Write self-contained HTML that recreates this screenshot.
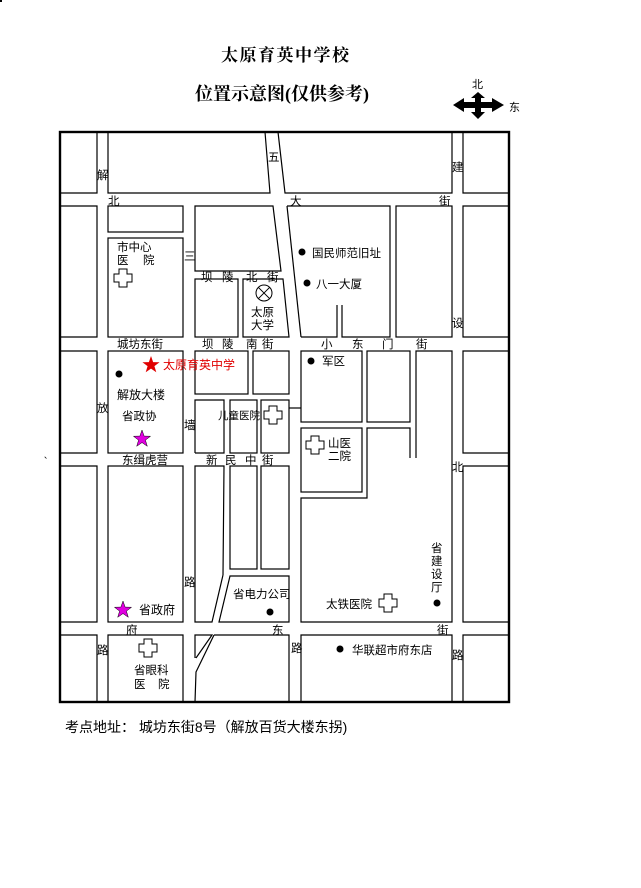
<!DOCTYPE html>
<html><head><meta charset="utf-8"><style>
html,body{margin:0;padding:0;background:#fff;}
svg{display:block;}
text{font-family:"Liberation Sans","Noto Sans CJK SC",sans-serif;fill:#000;}
.l{font-size:11.5px;}
.t{font-family:"Liberation Serif","Noto Serif CJK SC",serif;font-weight:bold;}
</style></head><body>
<svg width="641" height="888" viewBox="0 0 641 888" xmlns="http://www.w3.org/2000/svg">
<defs>
<path id="cr" d="M-4,-9 H4 V-4 H9 V4 H4 V9 H-4 V4 H-9 V-4 H-4 Z" fill="#fff" stroke="#000" stroke-width="1"/>
<polygon id="st" points="0,-9 2.12,-2.91 8.56,-2.78 3.42,1.11 5.29,7.28 0,3.6 -5.29,7.28 -3.42,1.11 -8.56,-2.78 -2.12,-2.91"/>
</defs>
<rect x="0" y="0" width="2" height="2" fill="#000"/>
<text class="t" x="221" y="61" font-size="17" letter-spacing="1.5">太原育英中学校</text>
<text class="t" x="195" y="100" font-size="18">位置示意图(仅供参考)</text>
<text x="472" y="88" font-size="11">北</text>
<text x="509" y="111" font-size="11">东</text>
<polygon points="453,105 464,98 464,102 475,102 475,98 471,98 478,92 485,98 481,98 481,102 492,102 492,98 504,105 492,112 492,108 481,108 481,112 485,112 478,119 471,112 475,112 475,108 464,108 464,112" fill="#000"/>

<g fill="none" stroke="#000" stroke-width="1.2">
<rect x="60" y="132" width="449" height="570" stroke-width="2.4"/>
<polyline points="60,193 97,193 97,132"/>
<polyline points="60,206 97,206 97,337 60,337"/>
<polyline points="60,351 97,351 97,453 60,453"/>
<polyline points="60,466 97,466 97,622 60,622"/>
<polyline points="60,635 97,635 97,702"/>
<polyline points="108,132 108,193 270,193 265,132"/>
<rect x="108" y="206" width="75" height="26"/>
<rect x="108" y="238" width="75" height="99"/>
<rect x="108" y="351" width="75" height="102"/>
<rect x="108" y="466" width="75" height="156"/>
<polyline points="108,702 108,635 183,635 183,702"/>
<polyline points="278,132 285,193 452,193 452,132"/>
<polyline points="463,132 463,193 509,193"/>
<polygon points="195,206 273,206 281,271 195,271"/>
<polyline points="287,206 301,337"/>
<polyline points="287,206 390,206 390,337 342,337 342,305"/>
<polyline points="337,305 337,337 301,337"/>
<rect x="396" y="206" width="56" height="131"/>
<polyline points="509,206 463,206 463,337 509,337"/>
<rect x="195" y="279" width="43" height="58"/>
<polygon points="243,279 283,279 289,337 243,337"/>
<rect x="195" y="351" width="53" height="43"/>
<rect x="253" y="351" width="36" height="43"/>
<polyline points="195,453 195,400 224,400 224,453 195,453"/>
<rect x="230" y="400" width="27" height="53"/>
<rect x="261" y="400" width="28" height="53"/>
<rect x="301" y="351" width="61" height="71"/>
<rect x="367" y="351" width="43" height="71"/>
<polyline points="509,351 463,351 463,453 509,453"/>
<polyline points="289,408 301,408"/>
<rect x="301" y="428" width="61" height="64"/>
<polyline points="410,458 410,428 367,428 367,498 301,498 301,622 452,622 452,351 416,351 416,458"/>
<polyline points="509,466 463,466 463,622 509,622"/>
<polyline points="223,575 224,466 195,466 195,622 212,622 223,575"/>
<rect x="230" y="466" width="27" height="103"/>
<rect x="261" y="466" width="28" height="103"/>
<polygon points="230,576 289,576 289,622 219,622"/>
<polyline points="195,658 195,635 212,635 196,658"/>
<polyline points="214,635 289,635 289,702"/>
<polyline points="214,635 196,672 195,702"/>
<polyline points="301,702 301,635 452,635 452,702"/>
<polyline points="509,635 463,635 463,702"/>
</g>

<use href="#cr" x="123" y="278"/>
<use href="#cr" x="273" y="415"/>
<use href="#cr" x="315" y="445"/>
<use href="#cr" x="388" y="603"/>
<use href="#cr" x="148" y="648"/>
<circle cx="264" cy="293" r="8" fill="#fff" stroke="#000" stroke-width="1"/>
<path d="M258.3,287.3 L269.7,298.7 M269.7,287.3 L258.3,298.7" stroke="#000" stroke-width="1"/>
<use href="#st" x="151" y="365" fill="#e00000"/>
<use href="#st" x="142" y="439" fill="#e000e0" stroke="#000" stroke-width="0.5"/>
<use href="#st" x="123" y="610" fill="#e000e0" stroke="#000" stroke-width="0.5"/>
<g fill="#000">
<ellipse cx="302" cy="252" rx="3.5" ry="3.5"/>
<ellipse cx="307" cy="283" rx="3.5" ry="3.5"/>
<ellipse cx="119" cy="374" rx="3.5" ry="3.5"/>
<ellipse cx="311" cy="361" rx="3.5" ry="3.5"/>
<ellipse cx="437" cy="603" rx="3.5" ry="3.5"/>
<ellipse cx="270" cy="612" rx="3.5" ry="3.5"/>
<ellipse cx="340" cy="649" rx="3.5" ry="3.5"/>
</g>

<g class="l">
<text x="268" y="161">五</text>
<text x="97" y="179">解</text>
<text x="452" y="171">建</text>
<text x="108" y="205">北</text>
<text x="290" y="205">大</text>
<text x="439" y="205">街</text>
<text x="117" y="251">市中心</text>
<text x="117" y="264">医</text><text x="143" y="264">院</text>
<text x="184" y="260">三</text>
<text x="201" y="281">坝</text><text x="222" y="281">陵</text><text x="246" y="281">北</text><text x="267" y="281">街</text>
<text x="312" y="257">国民师范旧址</text>
<text x="316" y="288">八一大厦</text>
<text x="251" y="316">太原</text>
<text x="251" y="329">大学</text>
<text x="452" y="327">设</text>
<text x="117" y="348">城坊东街</text>
<text x="202" y="348">坝</text><text x="222" y="348">陵</text><text x="246" y="348">南</text><text x="262" y="348">街</text>
<text x="321" y="348">小</text><text x="352" y="348">东</text><text x="382" y="348">门</text><text x="416" y="348">街</text>
<text x="163" y="369" style="fill:#e00000" font-size="12">太原育英中学</text>
<text x="117" y="399" font-size="12">解放大楼</text>
<text x="97" y="412">放</text>
<text x="122" y="420">省政协</text>
<text x="184" y="429">墙</text>
<text x="322" y="365">军区</text>
<text x="218" y="419" font-size="10.5">儿童医院</text>
<text x="328" y="447">山医</text>
<text x="328" y="460">二院</text>
<text x="122" y="464">东缉虎营</text>
<text x="206" y="464">新</text><text x="225" y="464">民</text><text x="245" y="464">中</text><text x="262" y="464">街</text>
<text x="452" y="471">北</text>
<text x="44" y="458" font-size="8">、</text>
<text x="184" y="586">路</text>
<text x="431" y="552">省</text><text x="431" y="565">建</text><text x="431" y="578">设</text><text x="431" y="591">厅</text>
<text x="233" y="598">省电力公司</text>
<text x="326" y="608">太铁医院</text>
<text x="139" y="614" font-size="12">省政府</text>
<text x="126" y="634">府</text>
<text x="272" y="634">东</text>
<text x="437" y="634">街</text>
<text x="97" y="654">路</text>
<text x="291" y="652">路</text>
<text x="452" y="659">路</text>
<text x="352" y="654">华联超市府东店</text>
<text x="134" y="674">省眼科</text>
<text x="134" y="688">医</text><text x="158" y="688">院</text>
</g>
<text x="65" y="732" font-size="14">考点地址： 城坊东街8号（解放百货大楼东拐)</text>
</svg>
</body></html>
